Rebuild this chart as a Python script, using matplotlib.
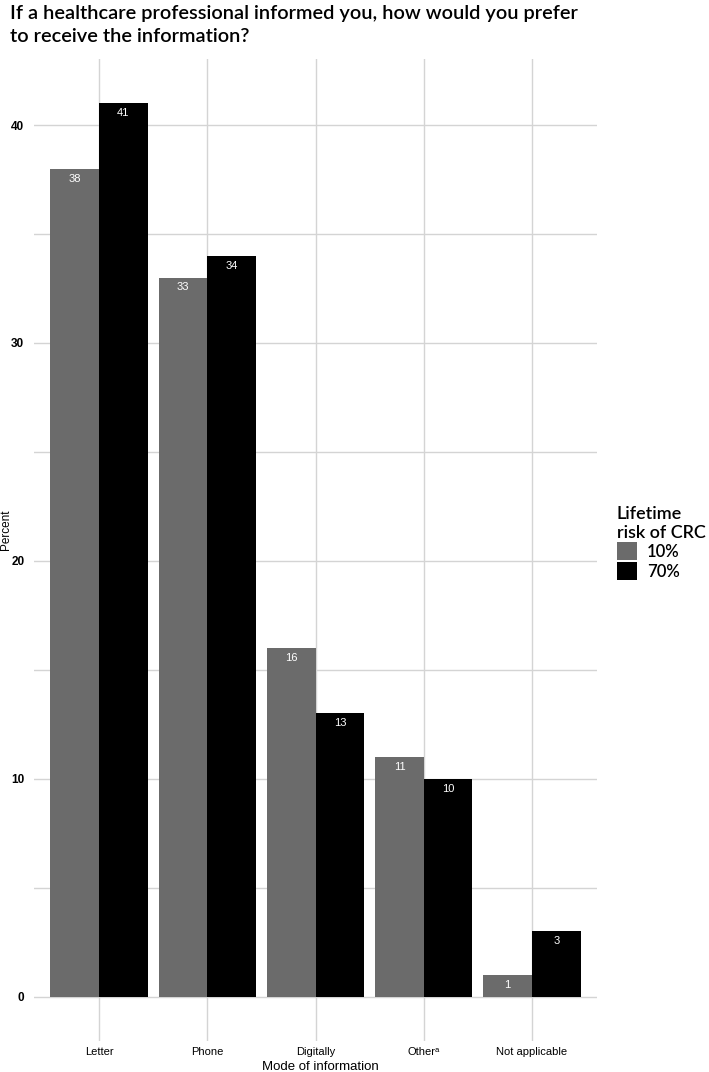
import matplotlib.pyplot as plt
import numpy as np

# data
categories = ['Letter', 'Phone', 'Digitally', 'Other\u1d43', 'Not applicable']
risk_10 = [38, 33, 16, 11, 1]
risk_70 = [41, 34, 13, 10, 3]
series_names = ['10%', '70%']
colors = ['#6b6b6b', '#000000']

W, H = 709, 1072
fig = plt.figure(figsize=(W / 100, H / 100), dpi=100)

# panel placement in pixels
left, right, top, bottom = 34, 597, 58.6, 1041.4
ax = fig.add_axes([left / W, 1 - bottom / H, (right - left) / W, (bottom - top) / H])

x = np.arange(1, len(categories) + 1)
bw = 0.45
for i, (vals, name, col) in enumerate(zip([risk_10, risk_70], series_names, colors)):
    pos = x + (i - 0.5) * bw
    bars = ax.bar(pos, vals, width=bw, color=col, label=name, zorder=3)
    for b, v in zip(bars, vals):
        ax.annotate(str(v), (b.get_x() + b.get_width() / 2, v), xytext=(0, -3.5),
                    textcoords='offset points', ha='center', va='top',
                    color='white', fontsize=8, family='Liberation Sans', zorder=4)

ymax = max(max(risk_10), max(risk_70))
ax.set_ylim(-0.05 * ymax, ymax * 1.05)
ax.set_xlim(0.4, len(categories) + 0.6)

ax.set_yticks([0, 10, 20, 30, 40])
ax.set_yticks([5, 15, 25, 35], minor=True)
ax.set_xticks(x)
ax.set_xticklabels(categories, family='Liberation Sans', fontsize=8)
for lab in ax.get_yticklabels():
    lab.set_family('Liberation Sans')
    lab.set_fontsize(8.5)
    lab.set_fontweight('bold')

ax.grid(True, which='both', color='#d4d4d4', linewidth=1.0, zorder=0)
ax.tick_params(which='both', length=0)
ax.tick_params(axis='x', pad=4)
ax.tick_params(axis='y', pad=7)
for s in ax.spines.values():
    s.set_visible(False)

ax.set_xlabel('Mode of information', family='Liberation Sans', fontsize=9.5)
ax.xaxis.set_label_coords(320 / W, 1 - 1067 / H, transform=fig.transFigure)
ax.xaxis.label.set_va('center')
ax.set_ylabel('Percent', family='Liberation Sans', fontsize=8.5)
ax.yaxis.set_label_coords(6 / W, 1 - 530 / H, transform=fig.transFigure)
ax.yaxis.label.set_va('center')

fig.text(10 / W, 1 - 5 / H, 'If a healthcare professional informed you, how would you prefer\nto receive the information?',
         ha='left', va='top', fontsize=14.4, family='Lato', fontweight='semibold', linespacing=1.4)

leg = ax.legend(title='Lifetime\nrisk of CRC', loc='upper left', bbox_to_anchor=(617 / W, 1 - 506 / H),
                bbox_transform=fig.transFigure, frameon=False,
                prop={'family': 'Lato', 'size': 12, 'weight': 'semibold'},
                handlelength=1.2, handleheight=1.3, handletextpad=0.6, labelspacing=0.1,
                borderaxespad=0, borderpad=0)
leg.get_title().set_family('Lato')
leg.get_title().set_fontsize(13)
leg.get_title().set_fontweight('semibold')
leg._legend_box.align = 'left'

fig.savefig('out.png', dpi=100)
